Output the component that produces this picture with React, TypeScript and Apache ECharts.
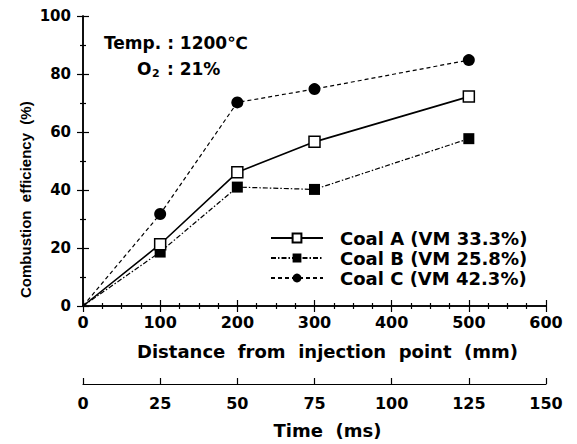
import React, { useEffect, useRef } from "react";
import * as echarts from "echarts";

const distances = [0, 100, 200, 300, 500];
const coalA = [0, 21.3, 46.1, 56.6, 72.2];
const coalB = [0, 18.6, 41.0, 40.2, 57.7];
const coalC = [0, 31.7, 70.2, 74.8, 84.8];
const seriesNames = ["Coal A (VM 33.3%)", "Coal B (VM 25.8%)", "Coal C (VM 42.3%)"];
const distanceRange = [0, 600];
const distanceStep = 100;
const effRange = [0, 100];
const effStep = 20;
const timeRange = [0, 150];
const timeStep = 25;

const FONT = "DejaVu Sans";

function toData(values: number[]) {
  return distances.map((d, i) =>
    i === 0 ? { value: [d, values[i]], symbol: "none" } : [d, values[i]]
  );
}

export default function App() {
  const ref = useRef<HTMLDivElement>(null);
  useEffect(() => {
    document.body.style.margin = "0";
    const chart = echarts.init(ref.current!, null, { renderer: "svg" });
    const axisLine = { show: true, lineStyle: { color: "#000", width: 1.5 } };
    const tickStyle = { color: "#000", width: 1.2 };
    const mainX = {
      type: "value",
      min: distanceRange[0],
      max: distanceRange[1],
      interval: distanceStep,
      axisLine,
      axisTick: { show: true, inside: true, length: 6, lineStyle: tickStyle },
      minorTick: { show: true, splitNumber: 4, length: 3, lineStyle: tickStyle },
      splitLine: { show: false },
      minorSplitLine: { show: false },
    };
    const mainY = {
      type: "value",
      min: effRange[0],
      max: effRange[1],
      interval: effStep,
      axisLine,
      axisTick: { show: true, inside: true, length: 6, lineStyle: tickStyle },
      minorTick: { show: true, splitNumber: 2, length: 3, lineStyle: tickStyle },
      splitLine: { show: false },
    };
    const symbolColor = "#000";
    chart.setOption({
      animation: false,
      backgroundColor: "#fff",
      textStyle: { fontFamily: FONT },
      grid: [
        { left: 83, right: 31, top: 16, bottom: 138 },
        { left: 83, right: 31, top: 383, height: 1 },
      ],
      xAxis: [
        {
          ...mainX,
          gridIndex: 0,
          position: "bottom",
          name: "Distance  from  injection  point  (mm)",
          nameLocation: "middle",
          nameGap: 36,
          nameTextStyle: {
            fontFamily: FONT,
            fontWeight: "bold",
            fontSize: 18,
            color: "#000",
            padding: [0, 0, 0, 26],
          },
          axisLabel: {
            show: true,
            margin: 8,
            fontFamily: FONT,
            fontWeight: "bold",
            fontSize: 16,
            color: "#000",
          },
        },
        {
          ...mainX,
          gridIndex: 0,
          position: "top",
          axisLabel: { show: false },
        },
        {
          type: "value",
          gridIndex: 1,
          position: "bottom",
          min: timeRange[0],
          max: timeRange[1],
          interval: timeStep,
          axisLine: { show: true, lineStyle: { color: "#000", width: 1.2 } },
          axisTick: { show: true, inside: true, length: 6, lineStyle: tickStyle },
          splitLine: { show: false },
          name: "Time  (ms)",
          nameLocation: "middle",
          nameGap: 37,
          nameTextStyle: {
            fontFamily: FONT,
            fontWeight: "bold",
            fontSize: 18,
            color: "#000",
            padding: [0, 0, 0, 26],
          },
          axisLabel: {
            show: true,
            margin: 11,
            fontFamily: FONT,
            fontWeight: "bold",
            fontSize: 16,
            color: "#000",
          },
        },
      ],
      yAxis: [
        {
          ...mainY,
          gridIndex: 0,
          position: "left",
          axisLabel: {
            show: true,
            margin: 12,
            fontFamily: FONT,
            fontWeight: "bold",
            fontSize: 15,
            color: "#000",
          },
        },
        {
          ...mainY,
          gridIndex: 0,
          position: "right",
          axisLabel: { show: false },
        },
        {
          type: "value",
          gridIndex: 1,
          show: false,
          min: 0,
          max: 1,
        },
      ],
      legend: {
        show: true,
        orient: "vertical",
        left: 270,
        top: 228,
        padding: 0,
        itemWidth: 52,
        itemHeight: 11,
        itemGap: 0,
        data: seriesNames,
        textStyle: {
          fontFamily: FONT,
          fontWeight: "bold",
          fontSize: 18,
          lineHeight: 20,
          color: "#000",
          padding: [0, 0, 0, 12],
        },
      },
      series: [
        {
          name: seriesNames[0],
          type: "line",
          xAxisIndex: 0,
          yAxisIndex: 0,
          data: toData(coalA),
          symbol: "rect",
          symbolSize: 11,
          lineStyle: { color: "#000", width: 1.6, type: "solid" },
          itemStyle: { color: "#fff", borderColor: symbolColor, borderWidth: 1.5 },
          z: 3,
        },
        {
          name: seriesNames[1],
          type: "line",
          xAxisIndex: 0,
          yAxisIndex: 0,
          data: toData(coalB),
          symbol: "rect",
          symbolSize: 11,
          lineStyle: { color: "#000", width: 1.2, type: [5, 2, 1.5, 2] },
          itemStyle: { color: "#000", borderColor: symbolColor, borderWidth: 0 },
          z: 2,
        },
        {
          name: seriesNames[2],
          type: "line",
          xAxisIndex: 0,
          yAxisIndex: 0,
          data: toData(coalC),
          symbol: "circle",
          symbolSize: 12,
          lineStyle: { color: "#000", width: 1.2, type: [4, 3] },
          itemStyle: { color: "#000", borderColor: symbolColor, borderWidth: 0 },
          z: 2,
        },
      ],
      graphic: [
        {
          type: "text",
          x: 25,
          y: 298,
          rotation: Math.PI / 2,
          style: {
            text: "Combustion  efficiency  (%)",
            fontFamily: "Liberation Sans",
            fontWeight: "bold",
            fontSize: 15,
            fill: "#000",
            align: "left",
            verticalAlign: "middle",
          },
        },
        {
          type: "text",
          x: 104,
          y: 43,
          style: {
            text: "Temp. : 1200℃",
            fontFamily: FONT,
            fontWeight: "bold",
            fontSize: 17,
            fill: "#000",
            verticalAlign: "middle",
          },
        },
        {
          type: "text",
          x: 137,
          y: 69,
          style: {
            text: "O",
            fontFamily: FONT,
            fontWeight: "bold",
            fontSize: 17,
            fill: "#000",
            verticalAlign: "middle",
          },
        },
        {
          type: "text",
          x: 152,
          y: 73,
          style: {
            text: "2",
            fontFamily: FONT,
            fontWeight: "bold",
            fontSize: 11,
            fill: "#000",
            verticalAlign: "middle",
          },
        },
        {
          type: "text",
          x: 161,
          y: 69,
          style: {
            text: " : 21%",
            fontFamily: FONT,
            fontWeight: "bold",
            fontSize: 17,
            fill: "#000",
            verticalAlign: "middle",
          },
        },
      ],
    });
    return () => chart.dispose();
  }, []);
  return <div ref={ref} style={{ width: 577, height: 444 }} />;
}
